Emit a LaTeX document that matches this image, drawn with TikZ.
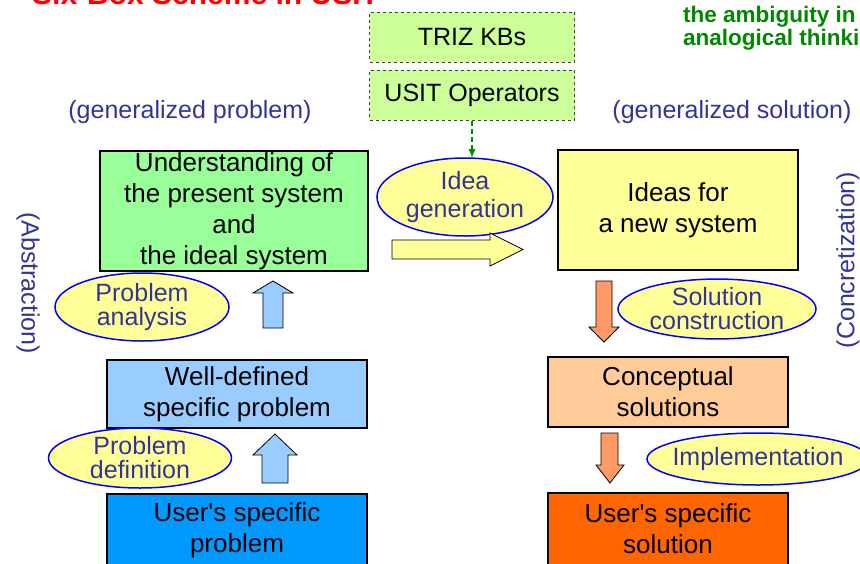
\documentclass[tikz,border=0pt]{standalone}
\usepackage{fontspec}
\setmainfont{Liberation Sans}[Ligatures=TeXOff]
\usepackage{tikz}
\usetikzlibrary{shapes.geometric,arrows,positioning,calc}
\definecolor{labelBlue}{HTML}{333399}
\definecolor{kbGreen}{HTML}{CCFF99}
\definecolor{boxGreen}{HTML}{99FF99}
\definecolor{softYellow}{HTML}{FFFF99}
\definecolor{lightBlue}{HTML}{99CCFF}
\definecolor{deepBlue}{HTML}{0099FF}
\definecolor{lightOrange}{HTML}{FFCC99}
\definecolor{deepOrange}{HTML}{FF6600}
\definecolor{arrowOrange}{HTML}{FF9966}
\definecolor{noteGreen}{HTML}{008800}
\tikzstyle{box}      =[draw,line width=1.5pt,rectangle,inner sep=0pt,align=center,font=\fontsize{26}{31}\selectfont]
\tikzstyle{kbBox}    =[draw=black!75,dashed,line width=1pt,fill=kbGreen,rectangle,minimum width=205pt,minimum height=50pt,inner sep=0pt,font=\fontsize{25}{31}\selectfont]
\tikzstyle{process}  =[draw=blue,line width=1.5pt,fill=softYellow,ellipse,inner sep=0pt,align=center,text=labelBlue,font=\fontsize{25}{24}\selectfont]
\tikzstyle{side}     =[text=labelBlue,inner sep=0pt,font=\fontsize{25}{30}\selectfont]
\tikzstyle{upArrow}  =[draw,fill=lightBlue,line width=0.8pt]
\tikzstyle{downArrow}=[draw,fill=arrowOrange,line width=0.8pt]
\tikzstyle{note}     =[text=noteGreen,inner sep=0pt,anchor=base west,font=\fontsize{22.5}{22}\selectfont\bfseries]

\begin{document}
\begin{tikzpicture}[x=1pt,y=-1pt]
  \useasboundingbox (0,0) rectangle (860,563);
  % title and remark, cut by the page
  \node [text=red,inner sep=0pt,anchor=base west,font=\fontsize{30}{30}\selectfont\bfseries] (title) at (32,4) {Six-Box Scheme in USIT};
  \node [note] (note1) at (683,22) {the ambiguity in};
  \node [note] (note2) at (683,45) {analogical thinking};

  % knowledge bases
  \node [kbBox] (kb) at (472,37) {TRIZ KBs};
  \node [kbBox] (ops) at (472,95) {USIT Operators};

  \node [side] (genProb) at (190,112) {(generalized problem)};
  \node [side] (genSol) at (732,112) {(generalized solution)};
  \node [side,rotate=-90] (abstr) at (28,283) {(Abstraction)};
  \node [side,rotate=90] (concr) at (848,260) {(Concretization)};

  % problem side
  \node [box,fill=boxGreen,minimum width=268pt,minimum height=120pt] (understand) at (234,211)
        {Understanding of\\the present system\\and\\the ideal system};
  \node [box,fill=lightBlue,minimum width=260pt,minimum height=68pt] (welldef) at (237,394)
        {Well-defined\\specific problem};
  \node [box,fill=deepBlue,minimum width=260pt,minimum height=72pt] (userProb) at (237,530)
        {User's specific\\problem};

  % solution side
  \node [box,fill=softYellow,minimum width=240pt,minimum height=120pt] (ideas) at (678,210)
        {Ideas for\\a new system};
  \node [box,fill=lightOrange,minimum width=240pt,minimum height=70pt] (concept) at (668,392)
        {Conceptual\\solutions};
  \node [box,fill=deepOrange,minimum width=240pt,minimum height=72pt] (userSol) at (668,529)
        {User's specific\\solution};

  % processes
  \node [process,minimum width=176pt,minimum height=78pt,font=\fontsize{25}{28}\selectfont] (ideaGen) at (465,197) {Idea\\generation};
  \node [process,minimum width=174pt,minimum height=68pt] (analysis) at (142,307) {Problem\\analysis};
  \node [process,minimum width=183pt,minimum height=60pt] (definition) at (140,458) {Problem\\definition};
  \node [process,minimum width=198pt,minimum height=58pt] (construct) at (717,309) {Solution\\construction};
  \node [process,minimum width=222pt,minimum height=52pt,inner xsep=-8pt] (implement) at (758,459) {Implementation};

  \draw [noteGreen,dash pattern=on 5pt off 3pt,line width=2pt,-latex] (ops.south) -- (472,158);

  % block arrows
  \draw [draw,fill=softYellow,line width=0.8pt] (392,240) -- (490,240) -- (490,233) -- (523,249.5)
        -- (490,266) -- (490,259) -- (392,259) -- cycle;
  \draw [upArrow] (263,328) -- (263,293) -- (253,293) -- (273,281) -- (293,293) -- (283,293) -- (283,328) -- cycle;
  \draw [upArrow] (262,483) -- (262,455) -- (253,455) -- (275,434) -- (297,455) -- (288,455) -- (288,483) -- cycle;
  \draw [downArrow] (596,281) -- (612,281) -- (612,327) -- (619,327) -- (604,342) -- (589,327) -- (596,327) -- cycle;
  \draw [downArrow] (601,433) -- (618,433) -- (618,465) -- (624,465) -- (610,483) -- (596,465) -- (601,465) -- cycle;
\end{tikzpicture}
\end{document}
